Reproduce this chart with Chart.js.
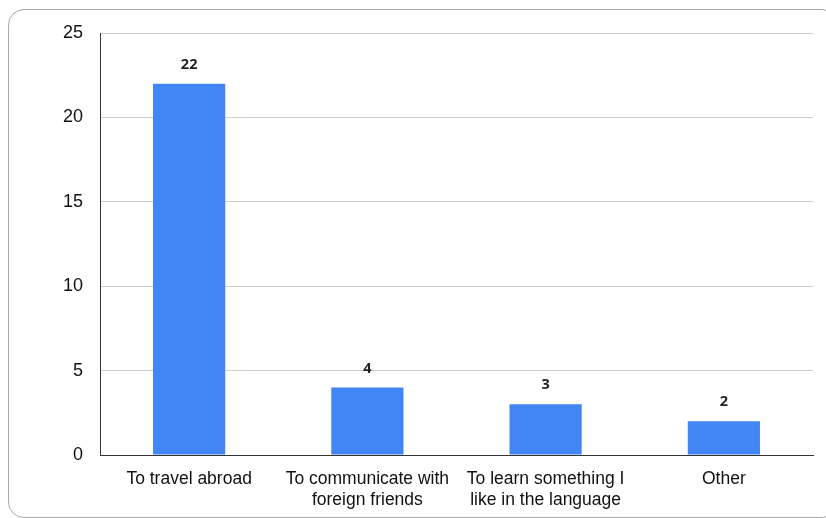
<!DOCTYPE html>
<html>
<head>
<meta charset="utf-8">
<script src="https://cdn.jsdelivr.net/npm/chart.js@4/dist/chart.umd.min.js"></script>
<style>
  html, body { margin: 0; padding: 0; background: #fff; }
  body { width: 826px; height: 518px; position: relative; overflow: hidden; }
  .card {
    position: absolute; left: 8px; top: 9px; width: 830px; height: 509px;
    border: 1.5px solid #a8a8a8; border-radius: 16px; box-sizing: border-box;
  }
  #wrap { position: absolute; left: 0; top: 0; width: 826px; height: 518px; }
</style>
</head>
<body>
<div class="card"></div>
<div id="wrap"><canvas id="chart"></canvas></div>
<script>
// Reasons for learning a language (number of responses)
const categories = [
  'To travel abroad',
  ['To communicate with', 'foreign friends'],
  ['To learn something I', 'like in the language'],
  'Other'
];
const responses = [22, 4, 3, 2];
const yTicks = [0, 5, 10, 15, 20, 25];

const FONT = '"Liberation Sans", Arial, Helvetica, sans-serif';
const VALUE_FONT = '"Open Sans", "Noto Sans", sans-serif';

// Prints each bar's value just above it
const valueLabels = {
  id: 'valueLabels',
  afterDatasetsDraw(chart) {
    const ctx = chart.ctx;
    const meta = chart.getDatasetMeta(0);
    ctx.save();
    ctx.font = 'bold 14.5px ' + VALUE_FONT;
    ctx.fillStyle = '#222';
    ctx.textAlign = 'center';
    ctx.textBaseline = 'middle';
    meta.data.forEach((bar, i) => {
      ctx.fillText(String(chart.data.datasets[0].data[i]), bar.x, bar.y - 19);
    });
    ctx.restore();
  }
};

new Chart(document.getElementById('chart'), {
  type: 'bar',
  data: {
    labels: categories,
    datasets: [{
      data: responses,
      backgroundColor: '#4285F4',
      borderWidth: 0,
      categoryPercentage: 0.81,
      barPercentage: 0.5
    }]
  },
  options: {
    responsive: true,
    maintainAspectRatio: false,
    animation: false,
    layout: { padding: { top: 33, right: 13, left: 0, bottom: 0 } },
    plugins: { legend: { display: false }, tooltip: { enabled: false } },
    scales: {
      x: {
        grid: { display: false, drawTicks: false },
        border: { color: '#333', width: 1 },
        ticks: {
          color: '#111', font: { family: FONT, size: 17.5, lineHeight: 1.2 }, padding: 14,
          maxRotation: 0, autoSkip: false
        },
        afterFit(scale) { scale.height = 63; }
      },
      y: {
        min: 0, max: 25,
        afterBuildTicks(scale) { scale.ticks = yTicks.map(v => ({ value: v })); },
        grid: { color: '#cccccc', lineWidth: 1, drawTicks: false },
        border: { color: '#333', width: 1 },
        ticks: { color: '#111', font: { family: FONT, size: 18 }, padding: 17 },
        afterFit(scale) { scale.width = 100; }
      }
    }
  },
  plugins: [valueLabels]
});
</script>
</body>
</html>
